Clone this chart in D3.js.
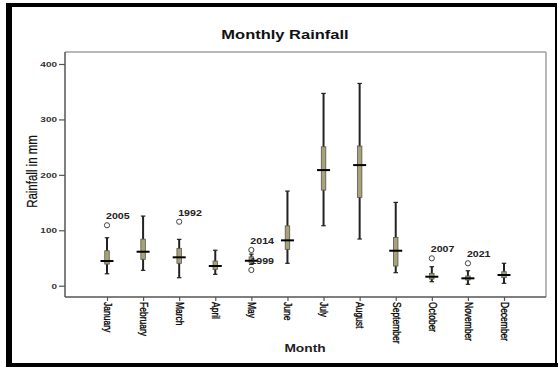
<!DOCTYPE html>
<html><head><meta charset="utf-8">
<script src="https://cdn.jsdelivr.net/npm/d3@7"></script>
<style>html,body{margin:0;padding:0;background:#fff;}svg{display:block;}</style>
</head><body>
<script>
const months = ["January","February","March","April","May","June","July","August","September","October","November","December"];
const whiskerLow  = [21.5, 27.7, 14.4, 20.5, 38.5, 40.4, 108.2,  84.2, 23.5,  7.2,  2.5,  4.3];
const q1          = [39.0, 47.6, 40.4, 29.5, 41.0, 65.6, 172.5, 159.4, 35.5, 12.0, 10.3, 14.4];
const medians     = [44.5, 61.3, 51.2, 35.5, 45.0, 81.8, 208.6, 217.6, 63.1, 16.2, 13.3, 19.3];
const q3          = [63.0, 84.0, 67.4, 44.5, 52.0,108.0, 250.6, 251.9, 87.2, 22.3, 17.5, 25.2];
const whiskerHigh = [86.5,125.6, 83.6, 64.0, 57.0,170.7, 346.9, 364.9,150.3, 34.3, 27.0, 40.4];
const outlierMonths = ["January","March","May","May","October","November"];
const outlierValues = [109, 115.4, 64.4, 28.3, 49.4, 40.4];
const outlierLabels = ["2005","1992","2014","1999","2007","2021"];
const yTicks = [0,100,200,300,400];

const W = 558, H = 367;
const plot = {x0:65, x1:546, y0:52, y1:297};
const SX = 1.25;
const svg = d3.select("body").append("svg").attr("width",W).attr("height",H);

// outer frame
svg.append("rect").attr("x",6).attr("y",3).attr("width",549).attr("height",362)
  .attr("fill","#fff");
svg.append("rect").attr("x",6).attr("y",3).attr("width",6).attr("height",364).attr("fill","#000");
svg.append("rect").attr("x",6).attr("y",3).attr("width",551).attr("height",4).attr("fill","#000");
svg.append("rect").attr("x",6).attr("y",363).attr("width",552).attr("height",4).attr("fill","#000");
svg.append("rect").attr("x",555).attr("y",3).attr("width",2).attr("height",364).attr("fill","#000");

const x = d3.scalePoint().domain(months).range([plot.x0+42, plot.x1-42]);
const y = d3.scaleLinear().domain([0,400]).range([285.7, 64]);

// plot frame
svg.append("line").attr("x1",plot.x0).attr("x2",plot.x1).attr("y1",plot.y0).attr("y2",plot.y0)
  .attr("stroke","#a0a0a0").attr("stroke-width",1.5);
svg.append("line").attr("x1",plot.x1).attr("x2",plot.x1).attr("y1",plot.y0).attr("y2",plot.y1)
  .attr("stroke","#a0a0a0").attr("stroke-width",1.5);

// y axis
const yAxis = d3.axisLeft(y).tickValues(yTicks).tickSize(6).tickPadding(2);
const gy = svg.append("g").attr("transform",`translate(${plot.x0},0)`).call(yAxis);
gy.select(".domain").remove();
gy.selectAll(".tick line").attr("stroke","#555").attr("stroke-width",1.2);
gy.selectAll(".tick text").attr("font-family","Liberation Sans, Arial, sans-serif")
  .attr("font-size",8).attr("font-weight","bold").attr("fill","#333")
  .each(function(){
    const t = d3.select(this);
    const tx = +t.attr("x");
    t.attr("x",tx/SX).attr("transform",`scale(${SX},1)`);
  });

// x axis
const xAxis = d3.axisBottom(x).tickSize(4).tickFormat("");
const gx = svg.append("g").attr("transform",`translate(0,${plot.y1})`).call(xAxis);
gx.select(".domain").remove();
gx.selectAll(".tick line").attr("stroke","#555").attr("stroke-width",1.2);
gx.selectAll(".tick").append("text")
  .attr("transform",`translate(0,5) scale(${SX},1) rotate(90)`)
  .attr("dy","0.35em").attr("text-anchor","start")
  .attr("font-family","Liberation Sans, Arial, sans-serif").attr("font-size",8.5)
  .attr("fill","#000").attr("stroke","#000").attr("stroke-width",0.25).text(d=>d);

// axis lines
svg.append("line").attr("x1",plot.x0).attr("x2",plot.x0).attr("y1",plot.y0).attr("y2",plot.y1)
  .attr("stroke","#555").attr("stroke-width",1.5);
svg.append("line").attr("x1",plot.x0).attr("x2",plot.x1).attr("y1",plot.y1).attr("y2",plot.y1)
  .attr("stroke","#555").attr("stroke-width",1.5);

// boxes
const bw = 4.5, mw = 13;
const boxes = months.map((m,i)=>({m, lo:whiskerLow[i], q1:q1[i], med:medians[i], q3:q3[i], hi:whiskerHigh[i]}));
const g = svg.append("g");
boxes.forEach(b=>{
  const cx = x(b.m);
  g.append("line").attr("x1",cx).attr("x2",cx).attr("y1",y(b.hi)).attr("y2",y(b.lo))
    .attr("stroke","#222").attr("stroke-width",2);
  g.append("line").attr("x1",cx-bw/2).attr("x2",cx+bw/2).attr("y1",y(b.hi)).attr("y2",y(b.hi))
    .attr("stroke","#222").attr("stroke-width",1.2);
  g.append("line").attr("x1",cx-bw/2).attr("x2",cx+bw/2).attr("y1",y(b.lo)).attr("y2",y(b.lo))
    .attr("stroke","#222").attr("stroke-width",1.2);
  g.append("rect").attr("x",cx-bw/2).attr("width",bw).attr("y",y(b.q3)).attr("height",y(b.q1)-y(b.q3))
    .attr("fill","#a8a275").attr("stroke","#555").attr("stroke-width",0.8);
  g.append("line").attr("x1",cx-mw/2).attr("x2",cx+mw/2).attr("y1",y(b.med)).attr("y2",y(b.med))
    .attr("stroke","#000").attr("stroke-width",2);
});

// outliers
outlierMonths.forEach((m,i)=>{
  const cx = x(m), cy = y(outlierValues[i]);
  g.append("circle").attr("cx",cx).attr("cy",cy).attr("r",2.6)
    .attr("fill","#fff").attr("stroke","#444").attr("stroke-width",1);
  g.append("text").attr("transform",`translate(${cx-1},${cy-6}) scale(${SX},1)`)
    .attr("font-family","Liberation Sans, Arial, sans-serif").attr("font-size",8.5)
    .attr("font-weight","bold").attr("fill","#222").text(outlierLabels[i]);
});

// title and axis titles
svg.append("text").attr("transform",`translate(285,39) scale(1.27,1)`)
  .attr("text-anchor","middle").attr("font-family","Liberation Sans, Arial, sans-serif")
  .attr("font-size",13).attr("font-weight","bold").attr("fill","#111").text("Monthly Rainfall");
svg.append("text").attr("transform",`translate(305,351.5) scale(${SX},1)`)
  .attr("text-anchor","middle").attr("font-family","Liberation Sans, Arial, sans-serif")
  .attr("font-size",11).attr("font-weight","bold").attr("fill","#222").text("Month");
svg.append("text").attr("transform",`translate(37,171.5) scale(${SX},1) rotate(-90)`)
  .attr("text-anchor","middle").attr("font-family","Liberation Sans, Arial, sans-serif")
  .attr("font-size",11.5).attr("fill","#111").attr("stroke","#111").attr("stroke-width",0.2)
  .text("Rainfall in mm");
</script>
</body></html>
